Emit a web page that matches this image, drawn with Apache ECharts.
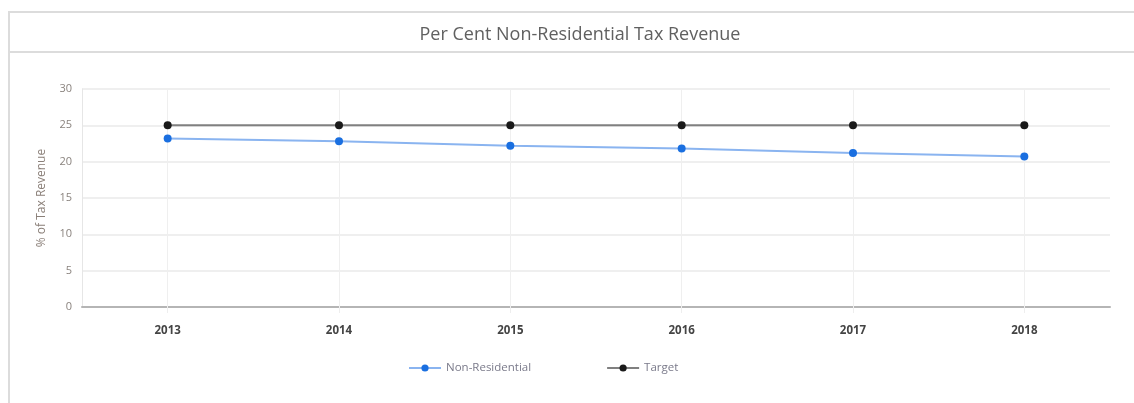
<!DOCTYPE html>
<html>
<head>
<meta charset="utf-8">
<script src="https://cdn.jsdelivr.net/npm/echarts@6/dist/echarts.min.js"></script>
<style>
  html, body { margin: 0; padding: 0; background: #fff; }
  body { width: 1134px; height: 403px; position: relative; overflow: hidden; }
  .panel {
    position: absolute; left: 8px; top: 11px; width: 1140px; height: 420px;
    border: 2px solid #dcdcdc; box-sizing: border-box;
  }
  .head {
    position: absolute; left: 8px; top: 11px; width: 1140px; height: 42px;
    border-bottom: 2px solid #dcdcdc; box-sizing: border-box;
  }
  #chart { position: absolute; left: 0; top: 0; width: 1134px; height: 403px; }
</style>
</head>
<body>
<div class="panel"></div>
<div class="head"></div>
<div id="chart"></div>
<script>
// Share of tax revenue from non-residential assessment, with the policy target
const years = ['2013', '2014', '2015', '2016', '2017', '2018'];
const nonResidential = [23.2, 22.8, 22.2, 21.8, 21.2, 20.7];
const target = [25, 25, 25, 25, 25, 25];
const yTicks = { min: 0, max: 30, interval: 5 };

const chart = echarts.init(document.getElementById('chart'), null, { renderer: 'canvas' });

chart.setOption({
  backgroundColor: 'transparent',
  animation: false,
  title: {
    text: 'Per Cent Non-Residential Tax Revenue',
    left: 575, top: 21, textAlign: 'center',
    textStyle: { fontFamily: 'Open Sans', fontWeight: 'normal', fontSize: 18, color: '#606060' }
  },
  grid: { left: 82, right: 24, top: 89, bottom: 96 },
  legend: {
    left: 403, top: 357,
    itemWidth: 32, itemHeight: 9, itemGap: 75,
    textStyle: { fontFamily: 'Open Sans', fontSize: 11.5, color: '#7a7a8a' },
    data: ['Non-Residential', 'Target']
  },
  xAxis: {
    type: 'category',
    data: years,
    boundaryGap: true,
    axisLine: { lineStyle: { color: '#b5b5b5', width: 2 } },
    axisTick: { show: true, alignWithLabel: true, length: 6, lineStyle: { color: '#eee' } },
    axisLabel: { margin: 18, fontFamily: 'Open Sans', fontWeight: 'bold', fontSize: 11.5, color: '#444' },
    splitLine: { show: false }
  },
  yAxis: {
    type: 'value',
    min: yTicks.min, max: yTicks.max, interval: yTicks.interval,
    name: '% of Tax Revenue',
    nameLocation: 'middle',
    nameGap: 34,
    nameTextStyle: { fontFamily: 'Open Sans', fontSize: 12, color: '#8a7f78' },
    axisLine: { show: true, lineStyle: { color: '#e6e6e6', width: 1 } },
    axisTick: { show: false },
    axisLabel: { margin: 10, fontFamily: 'Open Sans', fontSize: 11, color: '#8a837e' },
    splitLine: { lineStyle: { color: '#efefef', width: 2 } }
  },
  series: [
    {
      // vertical guide lines through each year, kept beneath the data
      name: 'guides',
      type: 'line',
      data: [],
      z: 1,
      markLine: {
        z: 1,
        silent: true, symbol: 'none', label: { show: false },
        lineStyle: { color: '#efefef', width: 1, type: 'solid' },
        data: years.map(y => ({ xAxis: y }))
      }
    },
    {
      name: 'Non-Residential',
      type: 'line',
      data: nonResidential,
      symbol: 'circle', symbolSize: 8,
      itemStyle: { color: '#1a6fe0' },
      lineStyle: { color: '#8ab4f0', width: 2 },
      z: 3
    },
    {
      name: 'Target',
      type: 'line',
      data: target,
      symbol: 'circle', symbolSize: 8,
      itemStyle: { color: '#1a1a1a' },
      lineStyle: { color: '#808080', width: 2 },
      z: 4
    }
  ]
});
</script>
</body>
</html>
